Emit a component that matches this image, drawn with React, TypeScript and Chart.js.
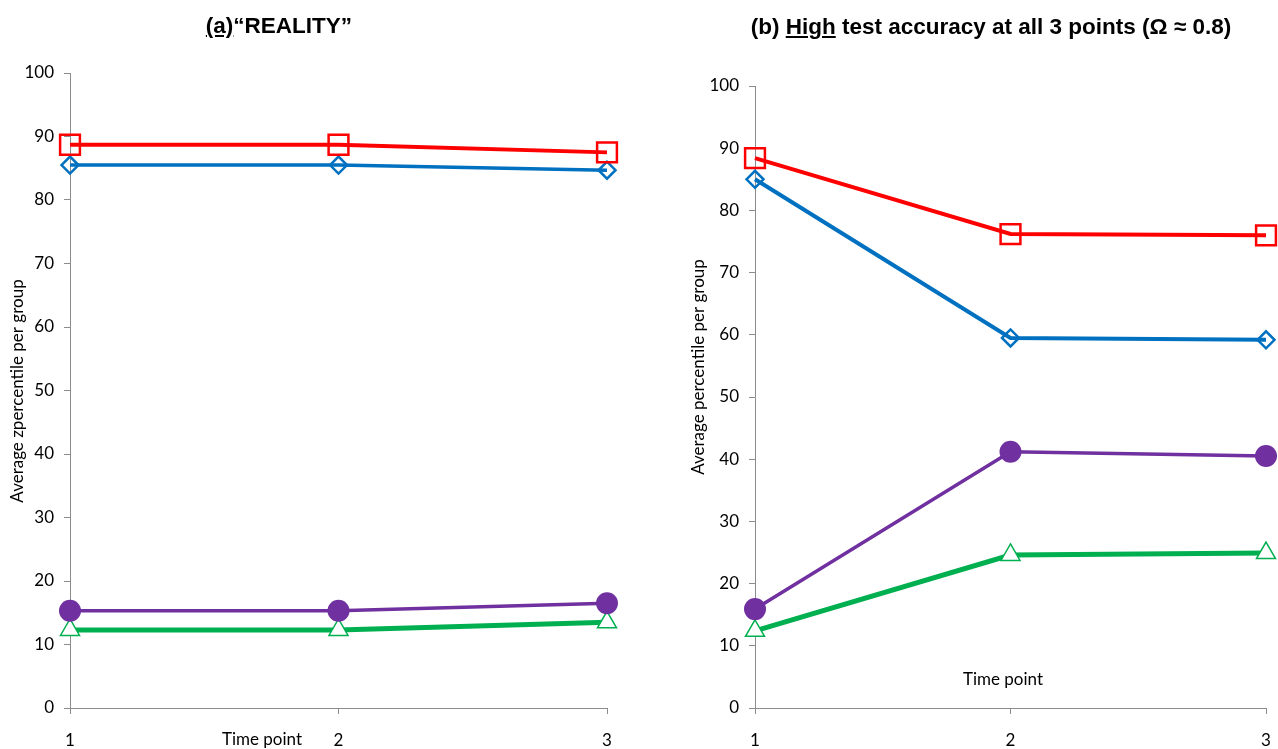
import React, { useEffect, useRef } from "react";
import { Chart, registerables } from "chart.js";

Chart.register(...registerables);

const timePoints = ["1", "2", "3"];

// (a) "REALITY"
const realityRed = [88.7, 88.7, 87.5];
const realityBlue = [85.5, 85.5, 84.7];
const realityPurple = [15.3, 15.3, 16.5];
const realityGreen = [12.3, 12.3, 13.5];

// (b) High test accuracy
const highRed = [88.4, 76.2, 76.0];
const highBlue = [85.0, 59.5, 59.2];
const highPurple = [15.9, 41.2, 40.5];
const highGreen = [12.4, 24.6, 24.9];

const yMin = 0;
const yMax = 100;
const yStep = 10;

const TICK_FONT = "Lato, 'Open Sans', sans-serif";
const AXIS_COLOR = "#8c8c8c";

type Layout = {
  width: number;
  height: number;
  plotLeft: number;
  plotRight: number;
  plotTop: number;
  plotBottom: number;
  yTitle: string;
  yTitleX: number;
  yTitleY: number;
  xTitleX: number;
  xTitleY: number;
  lineWidths: number[];
};

const freeTextPlugin = {
  id: "freeText",
  afterDraw(chart: any, _args: any, opts: any) {
    const ctx = chart.ctx;
    ctx.save();
    ctx.fillStyle = "#000";
    ctx.font = `17px ${TICK_FONT}`;
    ctx.textAlign = "center";
    ctx.textBaseline = "middle";
    ctx.save();
    ctx.translate(opts.yTitleX, opts.yTitleY);
    ctx.rotate(-Math.PI / 2);
    ctx.fillText(opts.yTitle, 0, 0);
    ctx.restore();
    ctx.fillText("Time point", opts.xTitleX, opts.xTitleY);
    ctx.restore();
  },
};

function makeConfig(red: number[], blue: number[], purple: number[], green: number[], L: Layout): any {
  const [wRed, wBlue, wPurple, wGreen] = L.lineWidths;
  return {
    type: "line",
    data: {
      labels: timePoints,
      datasets: [
        {
          label: "Red",
          data: red,
          borderColor: "#ff0000",
          borderWidth: wRed,
          pointStyle: "rect",
          pointRadius: 14,
          pointBorderWidth: 2.5,
          pointBorderColor: "#ff0000",
          pointBackgroundColor: "rgba(0,0,0,0)",
          tension: 0,
        },
        {
          label: "Blue",
          data: blue,
          borderColor: "#0070c0",
          borderWidth: wBlue,
          pointStyle: "rectRot",
          pointRadius: 8.5,
          pointBorderWidth: 2.5,
          pointBorderColor: "#0070c0",
          pointBackgroundColor: "rgba(0,0,0,0)",
          tension: 0,
        },
        {
          label: "Purple",
          data: purple,
          borderColor: "#7030a0",
          borderWidth: wPurple,
          pointStyle: "circle",
          pointRadius: 11,
          pointBorderWidth: 0,
          pointBackgroundColor: "#7030a0",
          tension: 0,
        },
        {
          label: "Green",
          data: green,
          borderColor: "#00b050",
          borderWidth: wGreen,
          pointStyle: "triangle",
          pointRadius: 11,
          pointBorderWidth: 1.5,
          pointBorderColor: "#00b050",
          pointBackgroundColor: "#ffffff",
          tension: 0,
        },
      ],
    },
    options: {
      responsive: false,
      animation: false,
      devicePixelRatio: 1,
      layout: {
        padding: {
          left: 0,
          top: L.plotTop,
          right: L.width - L.plotRight,
          bottom: 0,
        },
      },
      plugins: {
        legend: { display: false },
        tooltip: { enabled: false },
        title: { display: false },
        freeText: {
          yTitle: L.yTitle,
          yTitleX: L.yTitleX,
          yTitleY: L.yTitleY,
          xTitleX: L.xTitleX,
          xTitleY: L.xTitleY,
        },
      },
      scales: {
        x: {
          type: "category",
          offset: false,
          grid: {
            drawOnChartArea: false,
            drawTicks: true,
            tickLength: 6,
            color: AXIS_COLOR,
          },
          border: { color: AXIS_COLOR, width: 1 },
          ticks: {
            color: "#000",
            font: { family: TICK_FONT, size: 17 },
            padding: 16,
            maxRotation: 0,
            autoSkip: false,
          },
          afterFit(scale: any) {
            scale.height = L.height - L.plotBottom;
            scale.paddingLeft = 0;
            scale.paddingRight = 0;
          },
        },
        y: {
          min: yMin,
          max: yMax,
          grid: {
            drawOnChartArea: false,
            drawTicks: true,
            tickLength: 6,
            color: AXIS_COLOR,
          },
          border: { color: AXIS_COLOR, width: 1 },
          ticks: {
            stepSize: yStep,
            color: "#000",
            font: { family: TICK_FONT, size: 17 },
            padding: 10,
          },
          afterFit(scale: any) {
            scale.width = L.plotLeft;
            scale.paddingTop = 0;
            scale.paddingBottom = 0;
          },
        },
      },
    },
    plugins: [freeTextPlugin],
  };
}

function LineChart(props: { red: number[]; blue: number[]; purple: number[]; green: number[]; layout: Layout }) {
  const ref = useRef<HTMLCanvasElement | null>(null);
  useEffect(() => {
    if (!ref.current) return;
    const chart = new Chart(ref.current, makeConfig(props.red, props.blue, props.purple, props.green, props.layout));
    return () => chart.destroy();
  }, []);
  return (
    <canvas
      ref={ref}
      width={props.layout.width}
      height={props.layout.height}
      style={{ width: props.layout.width, height: props.layout.height, display: "block" }}
    />
  );
}

const leftLayout: Layout = {
  width: 640,
  height: 749,
  plotLeft: 70,
  plotRight: 607,
  plotTop: 73,
  plotBottom: 708,
  yTitle: "Average zpercentile per group",
  yTitleX: 18,
  yTitleY: 391,
  xTitleX: 262,
  xTitleY: 740,
  lineWidths: [4, 3.5, 3.5, 5],
};

const rightLayout: Layout = {
  width: 670,
  height: 749,
  plotLeft: 115,
  plotRight: 626,
  plotTop: 86,
  plotBottom: 708,
  yTitle: "Average percentile per group",
  yTitleX: 59,
  yTitleY: 367,
  xTitleX: 363,
  xTitleY: 680,
  lineWidths: [4, 4, 3.5, 5],
};

const titleStyle: React.CSSProperties = {
  position: "absolute",
  top: 12,
  transform: "translateX(-50%)",
  whiteSpace: "nowrap",
  fontFamily: "Arial, 'Liberation Sans', sans-serif",
  fontWeight: "bold",
  fontSize: 22.5,
  lineHeight: "28px",
  color: "#000",
};

export default function App() {
  useEffect(() => {
    document.body.style.margin = "0";
  }, []);
  return (
    <div style={{ position: "absolute", left: 0, top: 0, width: 1278, height: 749, background: "#fff", overflow: "hidden" }}>
      <div style={{ position: "absolute", left: 0, top: 0 }}>
        <LineChart red={realityRed} blue={realityBlue} purple={realityPurple} green={realityGreen} layout={leftLayout} />
      </div>
      <div style={{ position: "absolute", left: 640, top: 0 }}>
        <LineChart red={highRed} blue={highBlue} purple={highPurple} green={highGreen} layout={rightLayout} />
      </div>
      <div style={{ ...titleStyle, left: 279 }}>
        <u>(a)</u>“REALITY”
      </div>
      <div style={{ ...titleStyle, left: 991, top: 13 }}>
        (b) <u>High</u> test accuracy at all 3 points (Ω ≈ 0.8)
      </div>
    </div>
  );
}
